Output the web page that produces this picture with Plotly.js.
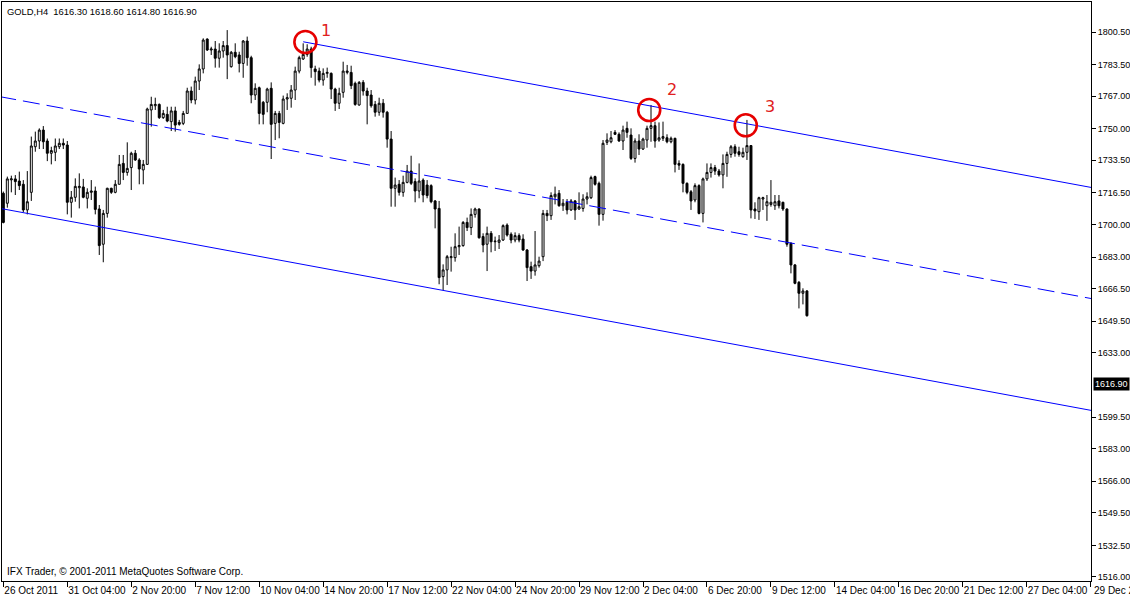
<!DOCTYPE html>
<html>
<head>
<meta charset="utf-8">
<script src="https://cdn.plot.ly/plotly-3.0.1.min.js"></script>
<style>
html,body{margin:0;padding:0;background:#fff;}
#chart{width:1130px;height:596px;}
</style>
</head>
<body>
<div id="chart"></div>
<script>
// ---------- DATA ----------
const headerText = 'GOLD,H4\u00a0\u00a01616.30 1618.60 1614.80 1616.90';
const copyrightText = 'IFX Trader, \u00a9 2001-2011 MetaQuotes Software Corp.';
const currentPrice = 1616.90;

const xTickLabels = ['26 Oct 2011','31 Oct 04:00','2 Nov 20:00','7 Nov 12:00','10 Nov 04:00',
  '14 Nov 20:00','17 Nov 12:00','22 Nov 04:00','24 Nov 20:00','29 Nov 12:00','2 Dec 04:00',
  '6 Dec 20:00','9 Dec 12:00','14 Dec 04:00','16 Dec 20:00','21 Dec 12:00','27 Dec 04:00','29 Dec 20:00'];
const barsPerLabel = 16;

const yTickValues = [1516.00,1532.50,1549.50,1566.00,1583.00,1599.50,1633.00,1649.50,1666.50,
  1683.00,1700.00,1716.50,1733.50,1750.00,1767.00,1783.50,1800.50];

const open = [
1716.3,1711.1,1723.3,1723.8,1722.7,1721.0,1707.6,1716.8,1740.6,1743.6,
1749.3,1743.6,1737.2,1737.7,1740.6,1742.4,1741.5,1711.6,1714.2,1719.2,
1719.6,1713.7,1716.8,1717.5,1708.1,1689.7,1705.8,1718.9,1716.8,1721.0,
1731.9,1727.2,1729.7,1737.2,1733.7,1728.5,1731.4,1759.8,1762.0,1762.7,
1755.8,1757.5,1753.7,1759.3,1753.3,1752.8,1758.0,1769.7,1765.0,1774.9,
1781.2,1796.8,1791.1,1791.6,1786.8,1790.6,1793.4,1782.4,1789.9,1788.5,
1784.1,1795.8,1787.1,1767.6,1771.4,1763.8,1763.8,1771.1,1752.8,1758.0,
1752.8,1765.5,1765.9,1770.2,1780.1,1786.4,1788.8,1791.6,1781.2,1780.1,
1775.4,1778.9,1778.9,1770.7,1763.3,1769.0,1779.4,1779.4,1773.7,1762.4,
1774.2,1769.7,1767.6,1762.7,1758.6,1763.3,1758.6,1744.6,1718.9,1721.0,
1716.8,1722.0,1727.9,1722.4,1717.5,1723.2,1720.6,1720.3,1712.3,1708.4,
1672.8,1676.3,1682.7,1682.7,1688.4,1689.0,1701.1,1698.4,1705.3,1708.1,
1693.7,1689.7,1695.4,1691.0,1690.7,1691.9,1699.7,1694.9,1691.9,1694.2,
1692.4,1686.7,1678.0,1675.7,1678.5,1683.2,1705.8,1704.6,1714.5,1716.3,
1709.8,1711.6,1707.6,1712.3,1708.1,1708.4,1713.3,1714.0,1725.0,1721.5,
1705.3,1742.9,1743.2,1748.1,1747.1,1743.6,1750.2,1746.7,1734.5,1743.6,
1739.4,1744.1,1750.2,1751.6,1744.1,1745.0,1745.3,1743.2,1745.0,1731.9,
1731.4,1721.5,1717.1,1712.8,1720.3,1705.8,1723.8,1727.2,1729.7,1727.9,
1725.9,1731.9,1736.6,1740.6,1738.0,1735.4,1737.7,1741.2,1708.1,1706.7,
1713.3,1709.8,1710.5,1709.8,1712.3,1711.6,1708.1,1690.2,1678.9,1669.8,
1664.1,1665.3];

const high = [
1717.2,1725.0,1725.5,1725.8,1727.6,1723.2,1727.9,1745.9,1748.5,1750.2,
1751.4,1744.9,1740.6,1744.9,1744.9,1744.9,1743.6,1717.5,1724.1,1726.7,
1723.8,1718.9,1723.2,1719.8,1710.2,1707.6,1719.2,1719.2,1723.2,1736.3,
1736.3,1742.9,1738.0,1738.9,1734.6,1733.7,1761.0,1766.7,1766.2,1763.2,
1759.8,1761.5,1761.5,1761.5,1754.6,1759.3,1771.4,1772.0,1777.2,1783.6,
1797.2,1797.2,1792.8,1795.8,1794.6,1795.8,1801.5,1790.6,1794.6,1790.2,
1796.3,1798.1,1788.1,1773.7,1772.0,1764.5,1771.4,1774.2,1759.3,1759.3,
1767.3,1768.5,1772.8,1782.4,1788.1,1794.6,1794.1,1792.8,1782.9,1781.9,
1781.5,1781.9,1779.4,1771.4,1771.4,1785.0,1783.3,1782.9,1774.6,1774.9,
1775.4,1771.4,1770.2,1764.5,1766.2,1765.5,1759.3,1748.8,1724.5,1723.2,
1725.5,1731.1,1735.9,1724.1,1731.9,1724.1,1723.2,1721.0,1712.8,1712.3,
1679.2,1684.1,1688.4,1695.4,1698.9,1701.8,1703.6,1708.4,1708.8,1708.4,
1695.4,1698.9,1696.6,1693.7,1694.5,1700.1,1700.6,1695.9,1695.9,1695.4,
1694.9,1687.2,1680.6,1696.6,1683.2,1707.6,1707.6,1716.8,1719.8,1718.0,
1713.3,1713.3,1713.3,1712.8,1716.8,1715.8,1716.8,1725.5,1725.5,1722.4,
1744.1,1747.6,1748.8,1749.3,1748.1,1751.6,1753.7,1750.2,1745.0,1747.1,
1745.3,1751.6,1762.4,1753.7,1753.3,1753.7,1747.1,1745.9,1745.3,1733.5,
1731.9,1722.0,1718.0,1721.5,1721.0,1724.5,1731.9,1731.9,1731.1,1729.0,
1736.6,1738.0,1741.5,1741.9,1740.6,1740.1,1754.6,1741.5,1711.6,1714.5,
1714.5,1715.4,1723.2,1715.4,1715.4,1711.9,1708.4,1690.7,1679.4,1670.5,
1666.7,1665.8];

const low = [
1700.6,1708.8,1716.8,1715.4,1718.0,1706.4,1705.3,1712.3,1738.0,1739.4,
1739.4,1733.1,1731.4,1733.1,1739.4,1739.4,1705.3,1703.6,1711.9,1708.4,
1713.7,1708.4,1712.8,1705.3,1684.1,1680.3,1703.6,1716.0,1716.3,1721.0,
1723.2,1725.5,1718.0,1733.2,1721.0,1721.0,1731.1,1751.1,1759.8,1755.1,
1755.1,1753.4,1748.8,1748.5,1751.6,1751.9,1758.0,1763.3,1762.7,1770.2,
1778.9,1790.6,1788.5,1781.9,1781.9,1787.1,1775.9,1781.9,1786.8,1779.4,
1776.6,1782.9,1763.3,1765.0,1752.3,1752.3,1758.6,1734.2,1744.1,1745.0,
1752.3,1759.8,1761.0,1765.0,1778.9,1785.9,1787.6,1776.6,1772.5,1774.2,
1772.5,1776.6,1765.5,1759.3,1760.3,1766.2,1778.4,1770.7,1762.0,1762.0,
1767.3,1752.3,1761.0,1756.3,1756.8,1755.8,1740.1,1709.3,1709.3,1715.1,
1714.5,1721.5,1720.6,1711.6,1713.7,1711.6,1713.7,1711.1,1698.0,1668.8,
1665.8,1668.4,1675.4,1680.6,1684.1,1688.4,1696.6,1694.5,1703.6,1692.6,
1685.5,1675.7,1685.5,1686.2,1687.2,1691.4,1693.7,1690.2,1690.7,1690.7,
1686.2,1670.5,1671.6,1673.3,1677.5,1680.9,1701.8,1702.4,1710.5,1709.3,
1707.1,1705.3,1707.1,1702.4,1707.6,1706.7,1710.5,1713.3,1720.3,1699.4,
1702.0,1741.5,1742.4,1746.7,1743.2,1738.9,1745.3,1733.7,1732.3,1736.3,
1738.9,1740.1,1743.2,1740.1,1743.2,1743.6,1742.4,1742.4,1727.2,1728.5,
1716.8,1715.8,1707.6,1711.6,1705.3,1701.1,1722.7,1724.5,1725.9,1725.0,
1718.9,1724.9,1734.9,1735.4,1735.4,1734.9,1733.7,1703.2,1702.9,1702.4,
1707.6,1701.9,1709.3,1707.6,1708.4,1707.1,1688.4,1674.5,1668.8,1656.2,
1658.3,1651.9];

const close = [
1701.1,1723.8,1723.8,1722.4,1720.3,1707.6,1711.9,1741.0,1743.6,1749.3,
1743.2,1737.2,1738.6,1741.0,1742.4,1741.5,1711.6,1714.2,1719.9,1719.9,
1714.2,1716.8,1717.5,1707.9,1689.0,1705.8,1718.9,1716.8,1721.0,1731.4,
1727.2,1729.3,1737.2,1733.7,1729.0,1731.4,1760.3,1762.7,1762.7,1755.8,
1758.0,1754.0,1759.3,1751.9,1752.3,1758.0,1769.7,1765.0,1774.9,1781.2,
1796.3,1791.1,1791.6,1786.8,1790.6,1793.4,1788.5,1789.9,1787.6,1784.1,
1795.8,1787.1,1767.6,1771.1,1758.0,1757.5,1770.7,1752.3,1758.0,1753.3,
1765.5,1766.2,1770.2,1780.1,1787.1,1788.8,1791.6,1781.9,1779.8,1775.4,
1778.9,1779.4,1770.7,1763.3,1768.5,1780.1,1780.1,1772.5,1762.7,1774.2,
1769.7,1767.3,1762.0,1758.6,1763.3,1758.6,1744.6,1718.9,1720.6,1716.8,
1722.0,1727.9,1721.5,1717.5,1722.7,1715.4,1715.1,1711.9,1708.1,1672.3,
1676.3,1683.2,1683.2,1688.4,1689.0,1701.1,1698.4,1705.3,1708.1,1693.1,
1689.3,1695.4,1691.0,1691.3,1691.9,1699.4,1694.5,1691.9,1694.2,1691.9,
1686.7,1677.5,1675.7,1678.9,1680.9,1705.8,1704.6,1715.1,1715.8,1709.8,
1711.1,1707.6,1712.3,1707.6,1709.3,1713.3,1714.5,1724.5,1721.0,1705.3,
1742.4,1744.1,1745.3,1747.1,1743.6,1749.3,1748.1,1734.5,1743.6,1739.4,
1744.6,1750.2,1751.6,1743.6,1745.3,1745.9,1743.2,1745.0,1731.4,1731.0,
1721.5,1716.8,1712.3,1720.3,1705.8,1723.8,1727.2,1729.7,1727.9,1725.9,
1731.9,1736.6,1740.6,1737.2,1736.6,1737.7,1741.2,1707.6,1707.1,1714.0,
1714.0,1711.9,1711.6,1711.9,1709.8,1708.1,1689.7,1678.9,1669.3,1664.1,
1665.3,1652.4];

// channel lines (bar index, price)
const upperLineX = [75, 280];
const upperLineY = [1795.4, 1716.3];
const lowerLineX = [-1, 280];
const lowerLineY = [1708.5, 1599.9];
const midLineX = [-1, 280];
const midLineY = [1766.8, 1658.3];

// marked touch points
const markX = [75.55, 161.55, 185.7];
const markY = [1795.3, 1759.8, 1751.8];
const markLabels = ['1', '2', '3'];
const markLabelShift = [[21, 11], [23, 20], [24, 19]];

// ---------- CHART ----------
const barIndex = open.map((_, i) => i);
const xTickVals = xTickLabels.map((_, i) => i * barsPerLabel);
const xMax = 272.05;

const traces = [
  {
    type: 'scatter', mode: 'lines', x: lowerLineX, y: lowerLineY,
    line: {color: '#0000ff', width: 1}, hoverinfo: 'skip'
  },
  {
    type: 'scatter', mode: 'lines', x: midLineX, y: midLineY,
    line: {color: '#0000ff', width: 1, dash: '17px,7px'}, hoverinfo: 'skip'
  },
  {
    type: 'scatter', mode: 'lines', x: upperLineX, y: upperLineY,
    line: {color: '#0000ff', width: 1}, hoverinfo: 'skip'
  },
  {
    type: 'candlestick', x: barIndex, open: open, high: high, low: low, close: close,
    increasing: {line: {color: '#000000', width: 1}, fillcolor: '#ffffff'},
    decreasing: {line: {color: '#000000', width: 1}, fillcolor: '#000000'},
    whiskerwidth: 0, hoverinfo: 'skip'
  },
  {
    type: 'scatter', mode: 'markers', x: markX, y: markY,
    marker: {symbol: 'circle-open', size: 22, color: '#e60000', line: {width: 2.6, color: '#e60000'}},
    hoverinfo: 'skip'
  }
];

const L = 2, R = 39, T = 2, B = 15, W = 1130, H = 596;
const plotW = W - L - R, plotH = H - T - B;

const annotations = [
  {
    xref: 'paper', yref: 'paper', x: (5 - L) / plotW, y: 1 - (11 - T) / plotH,
    xanchor: 'left', yanchor: 'middle', showarrow: false, text: headerText,
    font: {size: 9.4, color: '#000000'}
  },
  {
    xref: 'paper', yref: 'paper', x: (5 - L) / plotW, y: 1 - (571 - T) / plotH,
    xanchor: 'left', yanchor: 'middle', showarrow: false, text: copyrightText,
    font: {size: 10, color: '#000000'}
  },
  {
    xref: 'paper', yref: 'y', x: (1093 - L) / plotW, y: currentPrice,
    xanchor: 'left', yanchor: 'middle', showarrow: false, text: currentPrice.toFixed(2),
    font: {size: 9, color: '#ffffff'}, bgcolor: '#000000', borderpad: 1
  }
];
// time labels that fall at/after the right frame edge (drawn as text, like the terminal does)
xTickLabels.forEach((t, i) => {
  if (xTickVals[i] > xMax - 0.5) {
    annotations.push({
      xref: 'x', yref: 'paper', x: xTickVals[i], y: -(590 - (H - B)) / plotH,
      xanchor: 'left', yanchor: 'middle', xshift: 1, showarrow: false, text: t,
      font: {size: 10, color: '#000000'}
    });
  }
});
markLabels.forEach((t, i) => {
  annotations.push({
    xref: 'x', yref: 'y', x: markX[i], y: markY[i], xshift: markLabelShift[i][0], yshift: markLabelShift[i][1],
    xanchor: 'center', yanchor: 'middle', showarrow: false, text: t,
    font: {family: 'DejaVu Sans, sans-serif', size: 16, color: '#e02020'}
  });
});

const layout = {
  width: W, height: H,
  margin: {l: L, r: R, t: T, b: B, pad: 0},
  paper_bgcolor: '#ffffff', plot_bgcolor: '#ffffff',
  font: {family: 'Liberation Sans, Arial, sans-serif', size: 10, color: '#000000'},
  showlegend: false,
  hovermode: false,
  xaxis: {
    range: [-0.33, xMax], rangeslider: {visible: false},
    showgrid: false, zeroline: false,
    showline: true, linecolor: '#000000', linewidth: 1, mirror: true,
    ticks: 'outside', ticklen: 5, tickcolor: '#000000', tickwidth: 1,
    tickmode: 'array', tickvals: xTickVals, ticktext: xTickLabels,
    ticklabelposition: 'outside right', tickangle: 0,
    tickfont: {size: 10, color: '#000000'}
  },
  yaxis: {
    side: 'right', range: [1513.9, 1816.16],
    showgrid: false, zeroline: false,
    showline: true, linecolor: '#000000', linewidth: 1, mirror: true,
    ticks: 'outside', ticklen: 4, tickcolor: '#000000', tickwidth: 1,
    tickmode: 'array', tickvals: yTickValues, ticktext: yTickValues.map(v => v.toFixed(2)),
    tickfont: {size: 9, color: '#000000'}
  },
  annotations: annotations
};

Plotly.newPlot('chart', traces, layout, {staticPlot: true, displayModeBar: false});
</script>
</body>
</html>
